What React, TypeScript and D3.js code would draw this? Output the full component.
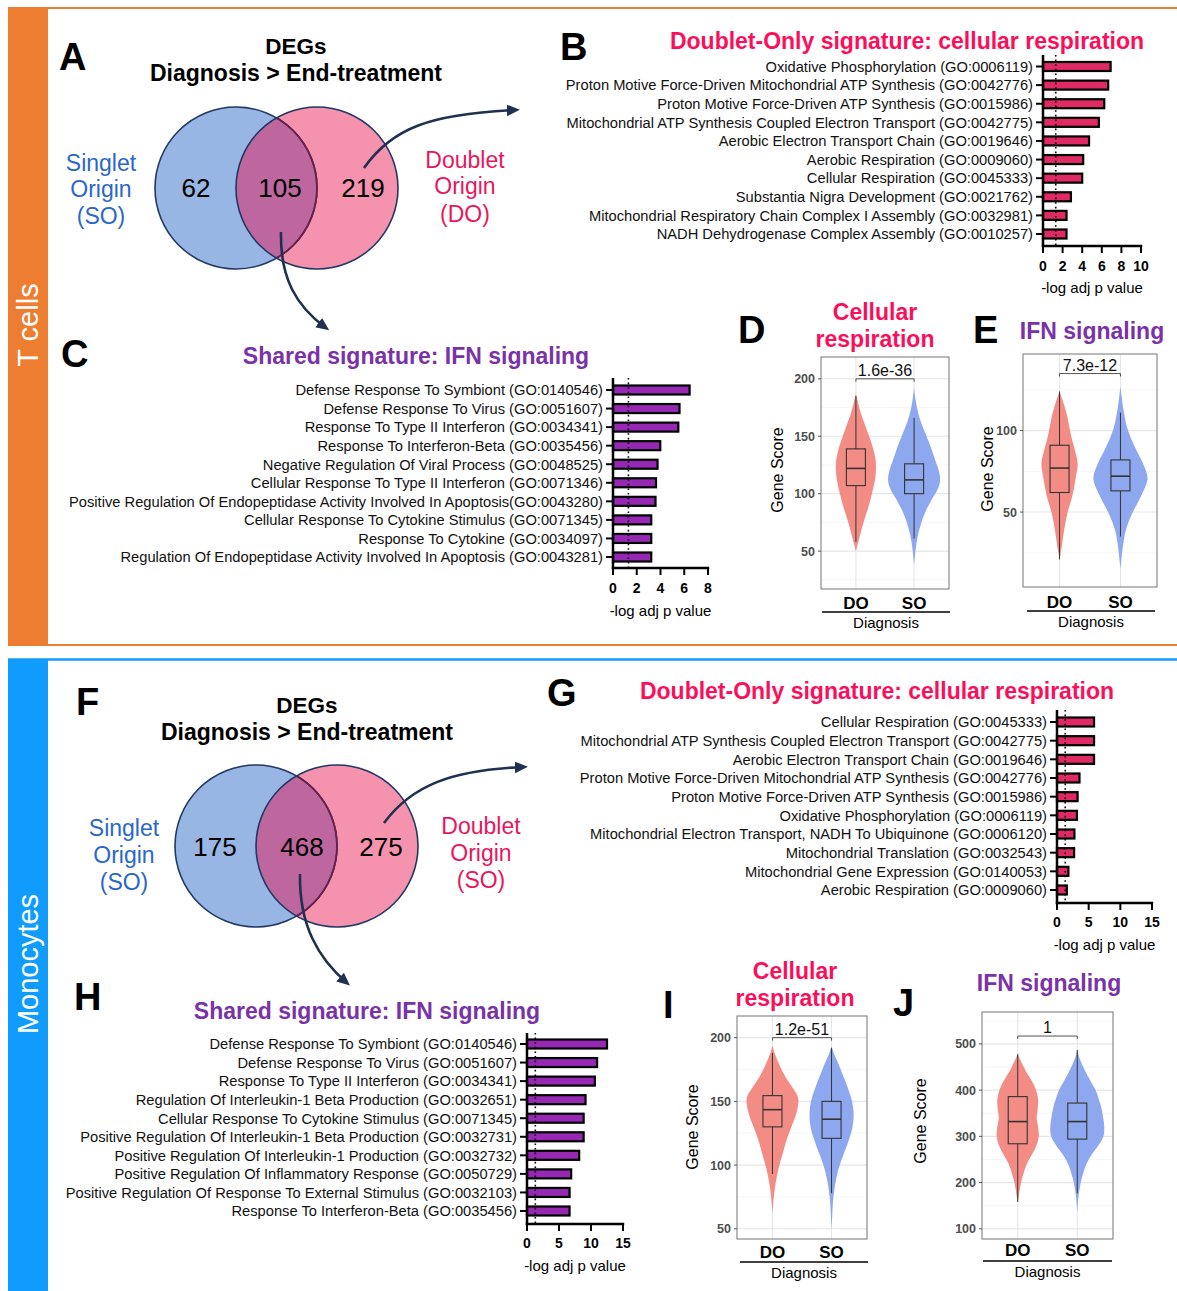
import React from 'react';
import * as d3 from 'd3';

const FONT = '"Liberation Sans", Arial, Helvetica, sans-serif';

// ---------- DATA ----------
// Venn counts: [Singlet-only, shared, Doublet-only]
const vennTcells = [62, 105, 219];
const vennMono = [175, 468, 275];

const termsB = [
  'Oxidative Phosphorylation (GO:0006119)',
  'Proton Motive Force-Driven Mitochondrial ATP Synthesis (GO:0042776)',
  'Proton Motive Force-Driven ATP Synthesis (GO:0015986)',
  'Mitochondrial ATP Synthesis Coupled Electron Transport (GO:0042775)',
  'Aerobic Electron Transport Chain (GO:0019646)',
  'Aerobic Respiration (GO:0009060)',
  'Cellular Respiration (GO:0045333)',
  'Substantia Nigra Development (GO:0021762)',
  'Mitochondrial Respiratory Chain Complex I Assembly (GO:0032981)',
  'NADH Dehydrogenase Complex Assembly (GO:0010257)',
];
const valuesB = [6.9, 6.65, 6.25, 5.7, 4.7, 4.1, 4.0, 2.85, 2.4, 2.4];
const ticksB = [0, 2, 4, 6, 8, 10];

const termsC = [
  'Defense Response To Symbiont (GO:0140546)',
  'Defense Response To Virus (GO:0051607)',
  'Response To Type II Interferon (GO:0034341)',
  'Response To Interferon-Beta (GO:0035456)',
  'Negative Regulation Of Viral Process (GO:0048525)',
  'Cellular Response To Type II Interferon (GO:0071346)',
  'Positive Regulation Of Endopeptidase Activity Involved In Apoptosis(GO:0043280)',
  'Cellular Response To Cytokine Stimulus (GO:0071345)',
  'Response To Cytokine (GO:0034097)',
  'Regulation Of Endopeptidase Activity Involved In Apoptosis (GO:0043281)',
];
const valuesC = [6.45, 5.6, 5.5, 3.98, 3.75, 3.62, 3.58, 3.22, 3.22, 3.22];
const ticksC = [0, 2, 4, 6, 8];

const termsG = [
  'Cellular Respiration (GO:0045333)',
  'Mitochondrial ATP Synthesis Coupled Electron Transport (GO:0042775)',
  'Aerobic Electron Transport Chain (GO:0019646)',
  'Proton Motive Force-Driven Mitochondrial ATP Synthesis (GO:0042776)',
  'Proton Motive Force-Driven ATP Synthesis (GO:0015986)',
  'Oxidative Phosphorylation (GO:0006119)',
  'Mitochondrial Electron Transport, NADH To Ubiquinone (GO:0006120)',
  'Mitochondrial Translation (GO:0032543)',
  'Mitochondrial Gene Expression (GO:0140053)',
  'Aerobic Respiration (GO:0009060)',
];
const valuesG = [5.85, 5.85, 5.85, 3.55, 3.25, 3.15, 2.75, 2.7, 1.8, 1.55];
const ticksG = [0, 5, 10, 15];

const termsH = [
  'Defense Response To Symbiont (GO:0140546)',
  'Defense Response To Virus (GO:0051607)',
  'Response To Type II Interferon (GO:0034341)',
  'Regulation Of Interleukin-1 Beta Production (GO:0032651)',
  'Cellular Response To Cytokine Stimulus (GO:0071345)',
  'Positive Regulation Of Interleukin-1 Beta Production (GO:0032731)',
  'Positive Regulation Of Interleukin-1 Production (GO:0032732)',
  'Positive Regulation Of Inflammatory Response (GO:0050729)',
  'Positive Regulation Of Response To External Stimulus (GO:0032103)',
  'Response To Interferon-Beta (GO:0035456)',
];
const valuesH = [12.5, 10.95, 10.6, 9.15, 8.85, 8.85, 8.15, 6.9, 6.65, 6.65];
const ticksH = [0, 5, 10, 15];

const pCutoff = 1.3;

// Violin data
const groups = ['DO', 'SO'];
// box stats: [lower whisker, q1, median, q3, upper whisker]
const boxD = [[58, 107, 122, 139, 185], [61, 100, 112, 126, 166]];
const boxE = [[21, 62, 77, 91, 124], [35, 63, 72, 82, 111]];
const boxI = [[93, 130, 143.5, 154.5, 188], [78, 121, 136, 150, 192]];
const boxJ = [[158, 284, 332, 386, 478], [177, 294, 332, 372, 487]];

// density profiles: [value, relative density]
const densD_DO = [[50, 0], [55, 0.08], [62, 0.18], [70, 0.3], [80, 0.47], [90, 0.65], [100, 0.8], [110, 0.93], [120, 1.0], [130, 0.98], [140, 0.85], [150, 0.66], [160, 0.45], [170, 0.25], [180, 0.1], [187, 0]];
const densD_SO = [[38, 0], [45, 0.03], [55, 0.08], [65, 0.16], [75, 0.28], [85, 0.45], [95, 0.68], [105, 0.93], [112, 1.0], [120, 0.95], [130, 0.8], [140, 0.65], [150, 0.48], [160, 0.3], [170, 0.16], [180, 0.07], [192, 0]];
const densE_DO = [[20, 0], [25, 0.06], [30, 0.14], [40, 0.27], [50, 0.45], [60, 0.71], [70, 0.88], [80, 1.0], [88, 0.85], [95, 0.68], [100, 0.58], [110, 0.4], [117, 0.22], [124, 0]];
const densE_SO = [[15, 0], [20, 0.03], [30, 0.1], [40, 0.22], [50, 0.46], [60, 0.77], [70, 1.0], [75, 0.95], [80, 0.83], [90, 0.53], [100, 0.28], [110, 0.14], [120, 0.05], [127, 0]];
const densI_DO = [[62, 0], [70, 0.03], [80, 0.08], [90, 0.16], [100, 0.27], [110, 0.41], [120, 0.55], [130, 0.73], [140, 0.91], [150, 1.0], [155, 0.95], [160, 0.8], [170, 0.48], [180, 0.24], [188, 0.08], [194, 0]];
const densI_SO = [[50, 0], [60, 0.03], [70, 0.06], [80, 0.12], [90, 0.22], [100, 0.37], [110, 0.58], [120, 0.79], [130, 0.95], [140, 1.0], [150, 0.93], [160, 0.75], [170, 0.53], [180, 0.3], [187, 0.12], [193, 0]];
const densJ_DO = [[158, 0], [170, 0.05], [180, 0.08], [200, 0.16], [220, 0.28], [240, 0.43], [260, 0.67], [280, 0.89], [300, 1.0], [320, 0.97], [340, 0.9], [360, 0.95], [380, 0.97], [400, 0.87], [420, 0.67], [440, 0.4], [460, 0.18], [478, 0]];
const densJ_SO = [[135, 0], [160, 0.03], [180, 0.07], [200, 0.13], [220, 0.22], [240, 0.34], [260, 0.53], [280, 0.78], [300, 0.97], [320, 1.0], [340, 0.96], [360, 0.9], [380, 0.8], [400, 0.68], [420, 0.49], [450, 0.22], [470, 0.08], [487, 0]];

const peaksD = [0.77, 1];
const peaksE = [0.67, 1];
const peaksI = [1, 0.85];
const peaksJ = [0.78, 1];

const ticksD = [50, 100, 150, 200];
const minorD = [25, 75, 125, 175];
const ticksE = [50, 100];
const minorE = [25, 75, 125];
const ticksI = [50, 100, 150, 200];
const minorI = [75, 125, 175];
const ticksJ = [100, 200, 300, 400, 500];
const minorJ = [150, 250, 350, 450, 550];

// ---------- COLORS ----------
const ORANGE = '#ED7D31';
const BLUE_STRIP = '#109CFD';
const CRIMSON = '#FB0F5B';
const PURPLE = '#7A32A8';
const BAR_RED = '#DF2A64';
const BAR_PURPLE = '#9628B4';
const NAVY = '#1F3050';
const SINGLET_BLUE = '#2A67C9';
const DOUBLET_RED = '#E8175D';
const VIOLIN_FILLS = ['#F48C86', '#8EA8EF'];

// ---------- COMPONENTS ----------
type BarProps = {
  terms: string[]; values: number[]; ticks: number[]; fill: string;
  axisX: number; axisRight: number; firstY: number; lastY: number;
  topY: number; baseY: number; tickLabelY: number; axisLabelY: number;
};

function BarChart(p: BarProps) {
  const x = d3.scaleLinear().domain([0, p.ticks[p.ticks.length - 1]]).range([p.axisX, p.axisRight]);
  const y = d3.scalePoint<string>().domain(p.terms).range([p.firstY, p.lastY]);
  return (
    <g fontFamily={FONT}>
      {p.terms.map((t, i) => {
        const yy = y(t) as number;
        return (
          <g key={i}>
            <text x={p.axisX - 10} y={yy} dy="0.36em" textAnchor="end" fontSize={14.7} fill="#111">{t}</text>
            <line x1={p.axisX - 7} x2={p.axisX} y1={yy} y2={yy} stroke="#000" strokeWidth={2} />
            <rect x={x(0)} y={yy - 4.5} width={x(p.values[i]) - x(0)} height={9} fill={p.fill} stroke="#000" strokeWidth={2.2} />
          </g>
        );
      })}
      <line x1={x(pCutoff)} x2={x(pCutoff)} y1={p.topY} y2={p.baseY} stroke="#000" strokeWidth={1.6} strokeDasharray="1.6 3" />
      <line x1={p.axisX} x2={p.axisX} y1={p.topY} y2={p.baseY + 1.2} stroke="#000" strokeWidth={2.5} />
      <line x1={p.axisX - 1.2} x2={p.axisRight + 1.2} y1={p.baseY} y2={p.baseY} stroke="#000" strokeWidth={2.5} />
      {p.ticks.map((t) => (
        <g key={t}>
          <line x1={x(t)} x2={x(t)} y1={p.baseY} y2={p.baseY + 7} stroke="#000" strokeWidth={2} />
          <text x={x(t)} y={p.tickLabelY} dy="0.36em" textAnchor="middle" fontSize={14} fontWeight="bold">{t}</text>
        </g>
      ))}
      <text x={(p.axisX + p.axisRight) / 2} y={p.axisLabelY} dy="0.36em" textAnchor="middle" fontSize={15}>-log adj p value</text>
    </g>
  );
}

type ViolinProps = {
  left: number; right: number; top: number; bottom: number;
  domain: number[]; ticks: number[]; minor: number[];
  boxes: number[][]; dens: number[][][]; peaks: number[]; maxHalf: number;
  bracket: number; pText: string;
  catY: number; lineY: number; lineX: number[]; diagY: number;
  geneX: number; geneY: number;
};

function ViolinPanel(p: ViolinProps) {
  const y = d3.scaleLinear().domain(p.domain).range([p.bottom, p.top]);
  const x = d3.scalePoint<string>().domain(groups).range([p.left, p.right]).padding(0.6);
  return (
    <g fontFamily={FONT}>
      {p.minor.map((m) => (
        <line key={'m' + m} x1={p.left} x2={p.right} y1={y(m)} y2={y(m)} stroke="#F2F2F2" strokeWidth={0.7} />
      ))}
      {p.ticks.map((t) => (
        <line key={'t' + t} x1={p.left} x2={p.right} y1={y(t)} y2={y(t)} stroke="#E6E6E6" strokeWidth={1.1} />
      ))}
      {groups.map((g) => (
        <line key={'v' + g} x1={x(g)} x2={x(g)} y1={p.top} y2={p.bottom} stroke="#E6E6E6" strokeWidth={1.1} />
      ))}
      {groups.map((g, i) => {
        const xc = x(g) as number;
        const w = d3.scaleLinear().domain([0, 1]).range([0, p.maxHalf * p.peaks[i]]);
        const area = d3.area<number[]>()
          .y((d) => y(d[0]))
          .x0((d) => xc - w(d[1]))
          .x1((d) => xc + w(d[1]))
          .curve(d3.curveCatmullRom.alpha(0.5));
        const b = p.boxes[i];
        return (
          <g key={g}>
            <path d={area(p.dens[i]) || ''} fill={VIOLIN_FILLS[i]} stroke="none" />
            <line x1={xc} x2={xc} y1={y(b[0])} y2={y(b[1])} stroke="#333" strokeWidth={1} />
            <line x1={xc} x2={xc} y1={y(b[3])} y2={y(b[4])} stroke="#333" strokeWidth={1} />
            <rect x={xc - 9.5} width={19} y={y(b[3])} height={y(b[1]) - y(b[3])} fill="none" stroke="#333" strokeWidth={1.1} />
            <line x1={xc - 9.5} x2={xc + 9.5} y1={y(b[2])} y2={y(b[2])} stroke="#333" strokeWidth={1.6} />
          </g>
        );
      })}
      <rect x={p.left} y={p.top} width={p.right - p.left} height={p.bottom - p.top} fill="none" stroke="#808080" strokeWidth={1.1} />
      {p.ticks.map((t) => (
        <g key={'l' + t}>
          <line x1={p.left - 3} x2={p.left} y1={y(t)} y2={y(t)} stroke="#555" strokeWidth={1} />
          <text x={p.left - 6} y={y(t)} dy="0.36em" textAnchor="end" fontSize={12.5} fontWeight="bold" fill="#4D4D4D">{t}</text>
        </g>
      ))}
      <path
        d={`M${x('DO')},${y(p.bracket) + 3}V${y(p.bracket)}H${x('SO')}V${y(p.bracket) + 3}`}
        fill="none" stroke="#555" strokeWidth={1}
      />
      <text x={((x('DO') as number) + (x('SO') as number)) / 2} y={y(p.bracket) - 3} textAnchor="middle" fontSize={16} fill="#111">{p.pText}</text>
      {groups.map((g) => (
        <text key={'c' + g} x={x(g)} y={p.catY} dy="0.36em" textAnchor="middle" fontSize={17} fontWeight="bold" fill="#000">{g}</text>
      ))}
      <line x1={p.lineX[0]} x2={p.lineX[1]} y1={p.lineY} y2={p.lineY} stroke="#000" strokeWidth={1.5} />
      <text x={(p.lineX[0] + p.lineX[1]) / 2} y={p.diagY} dy="0.36em" textAnchor="middle" fontSize={15} fill="#000">Diagnosis</text>
      <text transform={`translate(${p.geneX},${p.geneY}) rotate(-90)`} dy="0.36em" textAnchor="middle" fontSize={16} fill="#000">Gene Score</text>
    </g>
  );
}

type VennProps = {
  id: string; cxL: number; cxR: number; cy: number; r: number; counts: number[];
  numX: number[]; numY: number;
  leftLabel: string[]; leftX: number; leftY: number[];
  rightLabel: string[]; rightX: number; rightY: number[];
  titleX: number; titleY: number[];
};

function Venn(p: VennProps) {
  return (
    <g fontFamily={FONT}>
      <defs>
        <clipPath id={p.id + 'R'}>
          <circle cx={p.cxR} cy={p.cy} r={p.r} />
        </clipPath>
      </defs>
      <text x={p.titleX} y={p.titleY[0]} textAnchor="middle" fontSize={22.5} fontWeight="bold">DEGs</text>
      <text x={p.titleX} y={p.titleY[1]} textAnchor="middle" fontSize={23} fontWeight="bold">Diagnosis &gt; End-treatment</text>
      <circle cx={p.cxL} cy={p.cy} r={p.r} fill="#98B6E3" />
      <circle cx={p.cxR} cy={p.cy} r={p.r} fill="#F592AE" />
      <circle cx={p.cxL} cy={p.cy} r={p.r} fill="#BE679E" clipPath={`url(#${p.id}R)`} />
      <circle cx={p.cxL} cy={p.cy} r={p.r} fill="none" stroke="#1F3864" strokeWidth={1.6} />
      <circle cx={p.cxL} cy={p.cy} r={p.r} fill="none" stroke="#6A1F4C" strokeWidth={1.8} clipPath={`url(#${p.id}R)`} />
      <circle cx={p.cxR} cy={p.cy} r={p.r} fill="none" stroke="#1F3864" strokeWidth={1.6} />
      {p.counts.map((c, i) => (
        <text key={i} x={p.numX[i]} y={p.numY} textAnchor="middle" fontSize={26} fill="#000">{c}</text>
      ))}
      {p.leftLabel.map((s, i) => (
        <text key={'l' + i} x={p.leftX} y={p.leftY[i]} textAnchor="middle" fontSize={23} fill={SINGLET_BLUE}>{s}</text>
      ))}
      {p.rightLabel.map((s, i) => (
        <text key={'r' + i} x={p.rightX} y={p.rightY[i]} textAnchor="middle" fontSize={23} fill={DOUBLET_RED}>{s}</text>
      ))}
    </g>
  );
}

function Letter({ x, y, t }: { x: number; y: number; t: string }) {
  return <text x={x} y={y} fontFamily={FONT} fontSize={38} fontWeight="bold" fill="#000">{t}</text>;
}

function Title({ x, y, lines, color }: { x: number; y: number[]; lines: string[]; color: string }) {
  return (
    <g>
      {lines.map((l, i) => (
        <text key={i} x={x} y={y[i]} textAnchor="middle" fontFamily={FONT} fontSize={23} fontWeight="bold" fill={color}>{l}</text>
      ))}
    </g>
  );
}

export default function App() {
  return (
    <svg width={1177} height={1291} viewBox="0 0 1177 1291" style={{ position: 'absolute', left: 0, top: 0, background: '#fff' }}>
      <defs>
        <marker id="arrowHead" viewBox="0 0 10 10" refX={7} refY={5} markerUnits="userSpaceOnUse" markerWidth={13} markerHeight={13} orient="auto">
          <path d="M0,0.5 L10,5 L0,9.5 z" fill={NAVY} />
        </marker>
      </defs>
      <rect x={0} y={0} width={1177} height={1291} fill="#fff" />

      <line x1={8} x2={1177} y1={8} y2={8} stroke={ORANGE} strokeWidth={2.2} />
      <line x1={8} x2={1177} y1={645} y2={645} stroke={ORANGE} strokeWidth={2.2} />
      <rect x={8} y={7} width={40} height={639} fill={ORANGE} />
      <text transform="translate(28,325) rotate(-90)" dy="0.36em" textAnchor="middle" fontFamily={FONT} fontSize={29} fill="#fff">T cells</text>

      <line x1={8} x2={1177} y1={659.5} y2={659.5} stroke={BLUE_STRIP} strokeWidth={2.5} />
      <rect x={8} y={659} width={40} height={632} fill={BLUE_STRIP} />
      <text transform="translate(28,964) rotate(-90)" dy="0.36em" textAnchor="middle" fontFamily={FONT} fontSize={29} fill="#fff">Monocytes</text>

      {/* Panel A */}
      <Letter x={59} y={70} t="A" />
      <Venn id="vA" cxL={236} cxR={317} cy={188} r={81} counts={vennTcells}
        numX={[196, 280, 363]} numY={197}
        leftLabel={['Singlet', 'Origin', '(SO)']} leftX={101} leftY={[171, 197, 224]}
        rightLabel={['Doublet', 'Origin', '(DO)']} rightX={465} rightY={[168, 194, 222]}
        titleX={296} titleY={[54, 81]} />
      <path d="M364,168 C392,128 430,114 516,110" fill="none" stroke={NAVY} strokeWidth={2.6} markerEnd="url(#arrowHead)" />
      <path d="M281,232 C280,278 296,306 326,328" fill="none" stroke={NAVY} strokeWidth={2.6} markerEnd="url(#arrowHead)" />

      {/* Panel B */}
      <Letter x={560} y={60} t="B" />
      <Title x={907} y={[49]} lines={['Doublet-Only signature: cellular respiration']} color={CRIMSON} />
      <BarChart terms={termsB} values={valuesB} ticks={ticksB} fill={BAR_RED}
        axisX={1043} axisRight={1141} firstY={66.5} lastY={234} topY={55} baseY={246} tickLabelY={266} axisLabelY={288} />

      {/* Panel C */}
      <Letter x={61} y={367} t="C" />
      <Title x={416} y={[364]} lines={['Shared signature: IFN signaling']} color={PURPLE} />
      <BarChart terms={termsC} values={valuesC} ticks={ticksC} fill={BAR_PURPLE}
        axisX={613} axisRight={708} firstY={390} lastY={557} topY={378} baseY={568} tickLabelY={588} axisLabelY={611} />

      {/* Panel D */}
      <Letter x={738} y={343} t="D" />
      <Title x={875} y={[320, 347]} lines={['Cellular', 'respiration']} color={CRIMSON} />
      <ViolinPanel left={821} right={949} top={357} bottom={589} domain={[17, 219]} ticks={ticksD} minor={minorD}
        boxes={boxD} dens={[densD_DO, densD_SO]} peaks={peaksD} maxHalf={26} bracket={200} pText="1.6e-36"
        catY={603} lineY={612} lineX={[822, 950]} diagY={623} geneX={777} geneY={470} />

      {/* Panel E */}
      <Letter x={973} y={343} t="E" />
      <Title x={1092} y={[339]} lines={['IFN signaling']} color={PURPLE} />
      <ViolinPanel left={1023} right={1157} top={354} bottom={587} domain={[4, 147]} ticks={ticksE} minor={minorE}
        boxes={boxE} dens={[densE_DO, densE_SO]} peaks={peaksE} maxHalf={27} bracket={135} pText="7.3e-12"
        catY={602} lineY={611} lineX={[1027, 1155]} diagY={622} geneX={987} geneY={469} />

      {/* Panel F */}
      <Letter x={76} y={715} t="F" />
      <Venn id="vF" cxL={256} cxR={337} cy={846} r={81} counts={vennMono}
        numX={[215, 302, 381]} numY={856}
        leftLabel={['Singlet', 'Origin', '(SO)']} leftX={124} leftY={[836, 863, 890]}
        rightLabel={['Doublet', 'Origin', '(SO)']} rightX={481} rightY={[834, 861, 888]}
        titleX={307} titleY={[713, 740]} />
      <path d="M384,823 C412,785 452,770 524,767" fill="none" stroke={NAVY} strokeWidth={2.6} markerEnd="url(#arrowHead)" />
      <path d="M300,874 C299,925 318,958 347,983" fill="none" stroke={NAVY} strokeWidth={2.6} markerEnd="url(#arrowHead)" />

      {/* Panel G */}
      <Letter x={547} y={706} t="G" />
      <Title x={877} y={[699]} lines={['Doublet-Only signature: cellular respiration']} color={CRIMSON} />
      <BarChart terms={termsG} values={valuesG} ticks={ticksG} fill={BAR_RED}
        axisX={1057} axisRight={1152} firstY={722} lastY={890} topY={710} baseY={903} tickLabelY={922} axisLabelY={945} />

      {/* Panel H */}
      <Letter x={74} y={1010} t="H" />
      <Title x={367} y={[1019]} lines={['Shared signature: IFN signaling']} color={PURPLE} />
      <BarChart terms={termsH} values={valuesH} ticks={ticksH} fill={BAR_PURPLE}
        axisX={527} axisRight={623} firstY={1044} lastY={1211} topY={1033} baseY={1224} tickLabelY={1243} axisLabelY={1266} />

      {/* Panel I */}
      <Letter x={663} y={1018} t="I" />
      <Title x={795} y={[979, 1006]} lines={['Cellular', 'respiration']} color={CRIMSON} />
      <ViolinPanel left={737} right={867} top={1016} bottom={1239} domain={[42, 217]} ticks={ticksI} minor={minorI}
        boxes={boxI} dens={[densI_DO, densI_SO]} peaks={peaksI} maxHalf={26} bracket={200} pText="1.2e-51"
        catY={1252} lineY={1262} lineX={[740, 868]} diagY={1273} geneX={692} geneY={1127} />

      {/* Panel J */}
      <Letter x={893} y={1016} t="J" />
      <Title x={1049} y={[991]} lines={['IFN signaling']} color={PURPLE} />
      <ViolinPanel left={982} right={1113} top={1012} bottom={1239} domain={[78, 569]} ticks={ticksJ} minor={minorJ}
        boxes={boxJ} dens={[densJ_DO, densJ_SO]} peaks={peaksJ} maxHalf={27} bracket={517} pText="1"
        catY={1250} lineY={1261} lineX={[983, 1112]} diagY={1272} geneX={920} geneY={1121} />
    </svg>
  );
}
